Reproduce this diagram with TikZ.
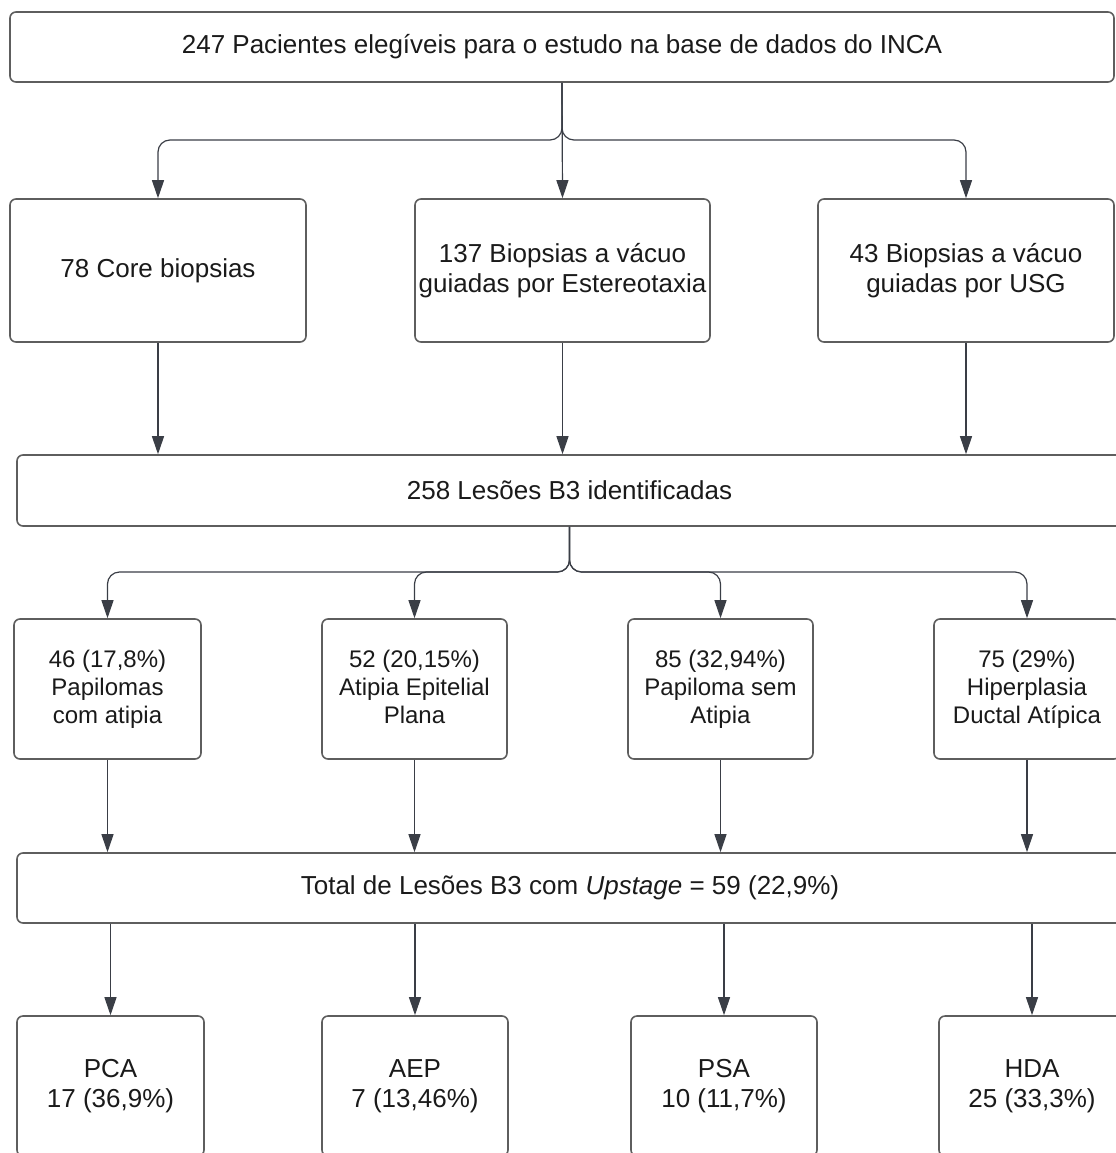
\documentclass[tikz,border=0pt]{standalone}
\usepackage{fontspec}
\setmainfont{Liberation Sans}
\usetikzlibrary{arrows.meta}
\definecolor{boxline}{HTML}{5E5E5E}
\definecolor{arrline}{HTML}{3A3E46}
\definecolor{txt}{HTML}{1A1A1A}
\begin{document}
\begin{tikzpicture}[x=0.75pt,y=-0.75pt,
  box/.style={draw=boxline,line width=1.2pt,rounded corners=4.5pt,fill=white,
    inner sep=0pt,align=center,text=txt},
  big/.style={font=\fontsize{19.5}{22.5}\selectfont},
  small/.style={font=\fontsize{18}{21}\selectfont},
  arr/.style={draw=arrline,line width=0.9pt,-{Triangle[length=13.5pt,width=9pt]},rounded corners=9pt}]
\useasboundingbox (0,0) rectangle (1116,1153);
\clip (0,0) rectangle (1116,1153);
% top
\node[box,big,minimum width=1104*0.75pt,minimum height=70*0.75pt] (top) at (562,47)
  {247 Pacientes elegíveis para o estudo na base de dados do INCA};
% row 2
\node[box,big,minimum width=296*0.75pt,minimum height=143*0.75pt] (c1) at (158,270.5)
  {78 Core biopsias};
\node[box,big,minimum width=295*0.75pt,minimum height=143*0.75pt] (c2) at (562.5,270.5)
  {137 Biopsias a vácuo\\guiadas por Estereotaxia};
\node[box,big,minimum width=296*0.75pt,minimum height=143*0.75pt] (c3) at (966,270.5)
  {43 Biopsias a vácuo\\guiadas por USG};
% mid
\node[box,big,minimum width=1105*0.75pt,minimum height=71*0.75pt] (mid) at (569.5,490.5)
  {258 Lesões B3 identificadas};
% row 3
\node[box,small,minimum width=187*0.75pt,minimum height=140*0.75pt] (d1) at (107.5,689)
  {46 (17,8\%)\\Papilomas\\com atipia};
\node[box,small,minimum width=185*0.75pt,minimum height=140*0.75pt] (d2) at (414.5,689)
  {52 (20,15\%)\\Atipia Epitelial\\Plana\vphantom{p}};
\node[box,small,minimum width=185*0.75pt,minimum height=140*0.75pt] (d3) at (720.5,689)
  {85 (32,94\%)\\Papiloma sem\\Atipia};
\node[box,small,minimum width=186*0.75pt,minimum height=140*0.75pt] (d4) at (1027,689)
  {75 (29\%)\\Hiperplasia\\Ductal Atípica};
% total
\node[box,big,minimum width=1106*0.75pt,minimum height=70*0.75pt] (total) at (570,888)
  {Total de Lesões B3 com \textit{Upstage} = 59 (22,9\%)};
% bottom
\node[box,big,minimum width=187*0.75pt,minimum height=140*0.75pt] (e1) at (110.5,1086)
  {PCA\\17 (36,9\%)};
\node[box,big,minimum width=186*0.75pt,minimum height=140*0.75pt] (e2) at (415,1086)
  {AEP\\7 (13,46\%)};
\node[box,big,minimum width=186*0.75pt,minimum height=140*0.75pt] (e3) at (724,1086)
  {PSA\\10 (11,7\%)};
\node[box,big,minimum width=186*0.75pt,minimum height=140*0.75pt] (e4) at (1032,1086)
  {HDA\\25 (33,3\%)};
% junctions
\coordinate (j1) at (562,140);
\coordinate (j2) at (569.5,572);
% connectors top -> row 2
\draw[arr] (top.south) -- (j1) -| (c1.north);
\draw[arr] (top.south) -- (c2.north);
\draw[arr] (top.south) -- (j1) -| (c3.north);
% row 2 -> mid
\draw[arr] (c1.south) -- (c1.south |- mid.north);
\draw[arr] (c2.south) -- (c2.south |- mid.north);
\draw[arr] (c3.south) -- (c3.south |- mid.north);
% mid -> row 3
\draw[arr] (mid.south) -- (j2) -| (d1.north);
\draw[arr] (mid.south) -- (j2) -| (d2.north);
\draw[arr] (mid.south) -- (j2) -| (d3.north);
\draw[arr] (mid.south) -- (j2) -| (d4.north);
% row 3 -> total
\draw[arr] (d1.south) -- (d1.south |- total.north);
\draw[arr] (d2.south) -- (d2.south |- total.north);
\draw[arr] (d3.south) -- (d3.south |- total.north);
\draw[arr] (d4.south) -- (d4.south |- total.north);
% total -> bottom
\draw[arr] (e1.north |- total.south) -- (e1.north);
\draw[arr] (e2.north |- total.south) -- (e2.north);
\draw[arr] (e3.north |- total.south) -- (e3.north);
\draw[arr] (e4.north |- total.south) -- (e4.north);
\end{tikzpicture}
\end{document}
